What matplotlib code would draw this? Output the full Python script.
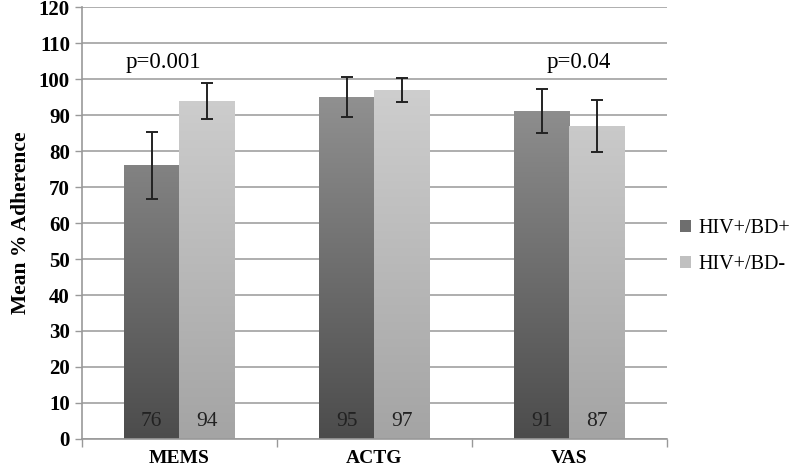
import numpy as np
import matplotlib.pyplot as plt
from matplotlib.patches import Patch
from matplotlib.colors import LinearSegmentedColormap

categories = ["MEMS", "ACTG", "VAS"]
series_names = ["HIV+/BD+", "HIV+/BD-"]
bd_pos = [76, 95, 91]
bd_neg = [94, 97, 87]
bd_pos_err = [9.2, 5.6, 6.1]
bd_neg_err = [5.0, 3.4, 7.2]
p_labels = ["p=0.001", "", "p=0.04"]
p_offsets = [-0.08, 0.0, 0.05]

plt.rcParams["font.family"] = ["Liberation Serif", "DejaVu Serif"]

fig = plt.figure(figsize=(7.94, 4.70), dpi=100)
ax = fig.add_axes([0.103, 0.066, 0.737, 0.919])

x = np.arange(len(categories))
width = 0.285

dark_cmap = LinearSegmentedColormap.from_list("dark", ["#4c4c4c", "#a2a2a2"])
light_cmap = LinearSegmentedColormap.from_list("light", ["#a4a4a4", "#d8d8d8"])
grad = np.linspace(0, 1, 256).reshape(-1, 1)

for vals, errs, offset, cmap in [(bd_pos, bd_pos_err, -width / 2, dark_cmap),
                                 (bd_neg, bd_neg_err, width / 2, light_cmap)]:
    bars = ax.bar(x + offset, vals, width, color="none", edgecolor="none", zorder=2)
    for b, v in zip(bars, vals):
        x0 = b.get_x()
        im = ax.imshow(grad, cmap=cmap, origin="lower", aspect="auto",
                       extent=[x0, x0 + width, 0, 120], zorder=2)
        im.set_clip_path(b)
        ax.text(x0 + width / 2, 4.8, str(v), ha="center", va="center",
                fontsize=15.5, color="#222222", zorder=4)
    ax.errorbar(x + offset, vals, yerr=errs, fmt="none", ecolor="#222222",
                elinewidth=1.4, capsize=4, capthick=1.4, zorder=3)

for i, lab in enumerate(p_labels):
    if lab:
        ax.text(x[i] + p_offsets[i], 104.5, lab, ha="center", va="center", fontsize=16.5)

ax.set_xlim(-0.5, len(categories) - 0.5)
ax.set_ylim(0, 120)
ax.set_yticks(range(0, 121, 10))
ax.yaxis.grid(True, color="#a8a8a8", linewidth=1.3, zorder=0)
ax.set_axisbelow(True)

ax.set_xticks(x)
ax.set_xticklabels(categories, fontweight="bold", fontsize=14)
ax.set_xticks(np.arange(-0.5, len(categories)), minor=True)
ax.tick_params(axis="x", which="major", length=0, pad=8)
ax.tick_params(axis="x", which="minor", length=6, color="#999999", width=1)
ax.tick_params(axis="y", length=5, color="#999999", width=1, labelsize=15)
for t in ax.get_yticklabels():
    t.set_fontweight("bold")

for s in ["top", "right"]:
    ax.spines[s].set_visible(False)
for s in ["left", "bottom"]:
    ax.spines[s].set_color("#999999")
    ax.spines[s].set_linewidth(1.2)

ax.set_ylabel("Mean % Adherence", fontweight="bold", fontsize=15.5, labelpad=6)

handles = [Patch(facecolor="#6e6e6e", edgecolor="none"),
           Patch(facecolor="#c0c0c0", edgecolor="none")]
fig.legend(handles, series_names, loc="center left", bbox_to_anchor=(0.856, 0.475),
           frameon=False, fontsize=14.5, handlelength=0.55, handleheight=0.55,
           handletextpad=0.4, labelspacing=0.85, borderpad=0, borderaxespad=0)

fig.savefig("out.png", dpi=100)
